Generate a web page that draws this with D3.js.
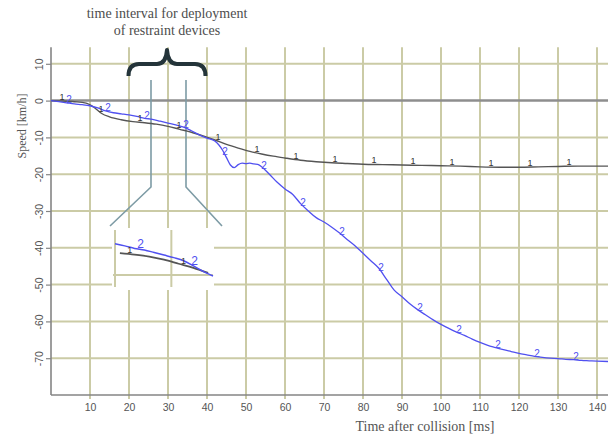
<!DOCTYPE html>
<html><head><meta charset="utf-8">
<script src="https://cdn.jsdelivr.net/npm/d3@7"></script>
<style>html,body{margin:0;padding:0;background:#fff;}svg{display:block;}</style>
</head><body>
<script>
// ---- data ----
const xTicks = [10,20,30,40,50,60,70,80,90,100,110,120,130,140];
const yTicks = [10,0,-10,-20,-30,-40,-50,-60,-70];
const time1  = [0,3,6,9,11,13,15,18,21,24,27,30,33,36,39,42,45,48,51,54,57,60,64,68,72,76,80,85,90,95,100,105,110,115,120,125,130,135,140,143];
const speed1 = [0,-0.1,-0.3,-0.7,-1.8,-3.5,-4.4,-5.2,-5.7,-6.0,-6.4,-7.0,-7.8,-8.6,-9.6,-10.7,-11.9,-12.9,-13.8,-14.5,-15.1,-15.6,-16.2,-16.6,-16.9,-17.1,-17.3,-17.4,-17.5,-17.6,-17.7,-17.8,-18.0,-18.1,-18.1,-18.0,-17.9,-17.8,-17.8,-17.8];
const time2  = [0,2,4,6,8,10,12,14,16,18,20,22,24,26,28,30,32,34,36,38,40,42,43,44,45,46,47,48,49,50,51,52,53,54,56,58,60,62,64,66,68,70,72,74,76,78,80,82,84,86,88,90,92,94,96,98,100,102,104,106,108,110,112,114,116,118,120,122,124,126,128,130,132,134,136,138,140,143];
const speed2 = [0,-0.3,-0.6,-0.9,-1.1,-1.4,-2.0,-2.8,-3.3,-3.6,-3.9,-4.3,-4.8,-5.1,-5.6,-6.1,-6.6,-7.2,-8.2,-9.3,-10.2,-11.0,-12.0,-13.5,-15.5,-17.5,-18.2,-17.4,-17.0,-17.1,-17.0,-17.2,-17.3,-18.0,-20.0,-22.2,-24.0,-25.5,-28.0,-30.0,-31.8,-33.0,-34.4,-36.0,-37.8,-39.5,-41.5,-43.5,-45.5,-48.5,-51.5,-53.3,-55.2,-56.8,-58.2,-59.6,-60.8,-61.9,-62.9,-63.8,-64.8,-65.7,-66.5,-67.1,-67.7,-68.2,-68.7,-69.1,-69.5,-69.8,-70.0,-70.1,-70.3,-70.4,-70.6,-70.7,-70.8,-70.9];
const labelTimes1 = [2.8,12.8,22.8,32.8,42.8,52.8,62.8,72.8,82.8,92.8,102.8,112.8,122.8,132.8];
const labelTimes2 = [4.6,14.6,24.6,34.6,44.6,54.6,64.6,74.6,84.6,94.6,104.6,114.6,124.6,134.6];
const insetRange = [20,40];
const insetLabelTimes = [23,34];
const insetGridT = [20,31.5];
const insetGridV = [-10];
const titleLines = ["time interval for deployment","of restraint devices"];
const xLabel = "Time after collision [ms]";
const yLabel = "Speed [km/h]";

// ---- setup ----
const W = 608, H = 435;
const svg = d3.select("body").append("svg").attr("width",W).attr("height",H);
const x = d3.scaleLinear().domain([0,143]).range([51, 51+143*3.9]);
const y = d3.scaleLinear().domain([-80,14.5]).range([395, 395-94.5*3.68]);
const xi = d3.scaleLinear().domain(insetRange).range([115,213]);
const yi = d3.scaleLinear().domain([-5.5,-10]).range([252,275]);
const sans = "'Liberation Sans', Arial, sans-serif";
const serif = "'Liberation Serif', 'Times New Roman', serif";
const gridC = "#cbcba6", axisC = "#858585", textC = "#555";
const c1 = "#555555", c2 = "#5050f0";
const s1 = time1.map((t,i)=>[t,speed1[i]]);
const s2 = time2.map((t,i)=>[t,speed2[i]]);
const interp = (ts, vs, t) => { const i = d3.bisectRight(ts,t); if(i<=0) return vs[0]; if(i>=ts.length) return vs[vs.length-1]; const f=(t-ts[i-1])/(ts[i]-ts[i-1]); return vs[i-1]+f*(vs[i]-vs[i-1]); };

// grid
svg.append("g").selectAll("line").data(xTicks).join("line")
  .attr("x1",d=>x(d)).attr("x2",d=>x(d)).attr("y1",y(14.5)).attr("y2",y(-80)+4)
  .attr("stroke",gridC).attr("stroke-width",2);
svg.append("g").selectAll("line").data(yTicks.filter(d=>d!==0)).join("line")
  .attr("x1",x(0)).attr("x2",W).attr("y1",d=>y(d)).attr("y2",d=>y(d))
  .attr("stroke",gridC).attr("stroke-width",2);
// zero line
svg.append("line").attr("x1",x(0)).attr("x2",W).attr("y1",y(0)).attr("y2",y(0))
  .attr("stroke","#8e8e8e").attr("stroke-width",2.5);

// axes
const gx = svg.append("g").attr("transform",`translate(0,${y(-80)})`)
  .call(d3.axisBottom(x).tickValues(xTicks).tickSize(0).tickPadding(9).tickFormat(d=>String(d)));
gx.select(".domain").remove();
gx.selectAll("text").attr("font-family",sans).attr("font-size",10.5).attr("fill",textC);
svg.append("line").attr("x1",x(0)).attr("x2",W).attr("y1",y(-80)).attr("y2",y(-80)).attr("stroke",axisC).attr("stroke-width",1.6);

const gy = svg.append("g").attr("transform",`translate(${x(0)},0)`)
  .call(d3.axisLeft(y).tickValues(yTicks).tickSize(5).tickFormat(d=>String(d)));
gy.select(".domain").remove();
gy.selectAll("line").attr("stroke",axisC).attr("stroke-width",1.2);
gy.selectAll("text").attr("transform","rotate(-90)").attr("x",0).attr("y",-8).attr("dy",0)
  .attr("text-anchor","middle").attr("font-family",sans).attr("font-size",10.5).attr("fill",textC);
svg.append("line").attr("x1",x(0)).attr("x2",x(0)).attr("y1",y(14.5)).attr("y2",y(-80)).attr("stroke",axisC).attr("stroke-width",1.6);

// axis titles
svg.append("text").attr("x",425).attr("y",431).attr("text-anchor","middle")
  .attr("font-family",serif).attr("font-size",14).attr("fill",textC).text(xLabel);
svg.append("text").attr("transform","translate(26,126) rotate(-90)").attr("text-anchor","middle")
  .attr("font-family",serif).attr("font-size",12).attr("fill",textC).text(yLabel);

// annotation title
svg.append("g").selectAll("text").data(titleLines).join("text")
  .attr("x",167).attr("y",(d,i)=>18+i*17).attr("text-anchor","middle")
  .attr("font-family",serif).attr("font-size",14).attr("fill","#4d4d4d").text(d=>d);

// brace
svg.append("path")
  .attr("d","M128.5,76 Q128.5,64 139,64 L157,64 Q166,64 167,50 Q168,64 177,64 L195,64 Q205.5,64 205.5,76")
  .attr("fill","none").attr("stroke","#24343a").attr("stroke-width",4).attr("stroke-linejoin","round");

// pointer lines
const pc = "#7d9ba5";
svg.append("polyline").attr("points","151,80 151,187 110,226").attr("fill","none").attr("stroke",pc).attr("stroke-width",1.6);
svg.append("polyline").attr("points","186,80 186,187 222,226").attr("fill","none").attr("stroke",pc).attr("stroke-width",1.6);

// inset mask + grid
svg.append("rect").attr("x",112).attr("y",228).attr("width",102).attr("height",62).attr("fill","#fff");
svg.append("g").selectAll("line").data(insetGridT).join("line")
  .attr("x1",d=>xi(d)).attr("x2",d=>xi(d)).attr("y1",230).attr("y2",287)
  .attr("stroke",gridC).attr("stroke-width",2);
svg.append("g").selectAll("line").data(insetGridV).join("line")
  .attr("x1",113).attr("x2",213).attr("y1",d=>yi(d)).attr("y2",d=>yi(d))
  .attr("stroke",gridC).attr("stroke-width",2);

// main curves
const line = d3.line().x(d=>x(d[0])).y(d=>y(d[1])).curve(d3.curveMonotoneX);
svg.append("path").datum(s1).attr("d",line).attr("fill","none").attr("stroke",c1).attr("stroke-width",1.4);
svg.append("path").datum(s2).attr("d",line).attr("fill","none").attr("stroke",c2).attr("stroke-width",1.3);

// inset curves
const inside = d => d[0]>=insetRange[0] && d[0]<=insetRange[1];
const lineI = d3.line().x(d=>xi(d[0])).y(d=>yi(d[1])).curve(d3.curveMonotoneX);
svg.append("path").datum(s1.filter(inside)).attr("d",lineI).attr("fill","none").attr("stroke",c1).attr("stroke-width",1.8);
svg.append("path").datum(s2.filter(inside)).attr("d",lineI).attr("fill","none").attr("stroke",c2).attr("stroke-width",1.5);

// curve labels
svg.append("g").selectAll("text").data(labelTimes1).join("text")
  .attr("x",d=>x(d)).attr("y",d=>y(interp(time1,speed1,d))-1).attr("text-anchor","middle")
  .attr("font-family",sans).attr("font-size",9).attr("fill","#333").text("1");
svg.append("g").selectAll("text").data(labelTimes2).join("text")
  .attr("x",d=>x(d)).attr("y",d=>y(interp(time2,speed2,d))).attr("text-anchor","middle")
  .attr("font-family",sans).attr("font-size",10).attr("fill",c2).text("2");
svg.append("g").selectAll("text").data(insetLabelTimes).join("text")
  .attr("x",d=>xi(d)).attr("y",d=>yi(interp(time1,speed1,d))-1).attr("text-anchor","middle")
  .attr("font-family",sans).attr("font-size",9).attr("fill","#333").text("1");
svg.append("g").selectAll("text").data(insetLabelTimes).join("text")
  .attr("x",d=>xi(d)+11).attr("y",d=>yi(interp(time2,speed2,d+2))-1).attr("text-anchor","middle")
  .attr("font-family",sans).attr("font-size",12).attr("fill",c2).text("2");
</script>
</body></html>
